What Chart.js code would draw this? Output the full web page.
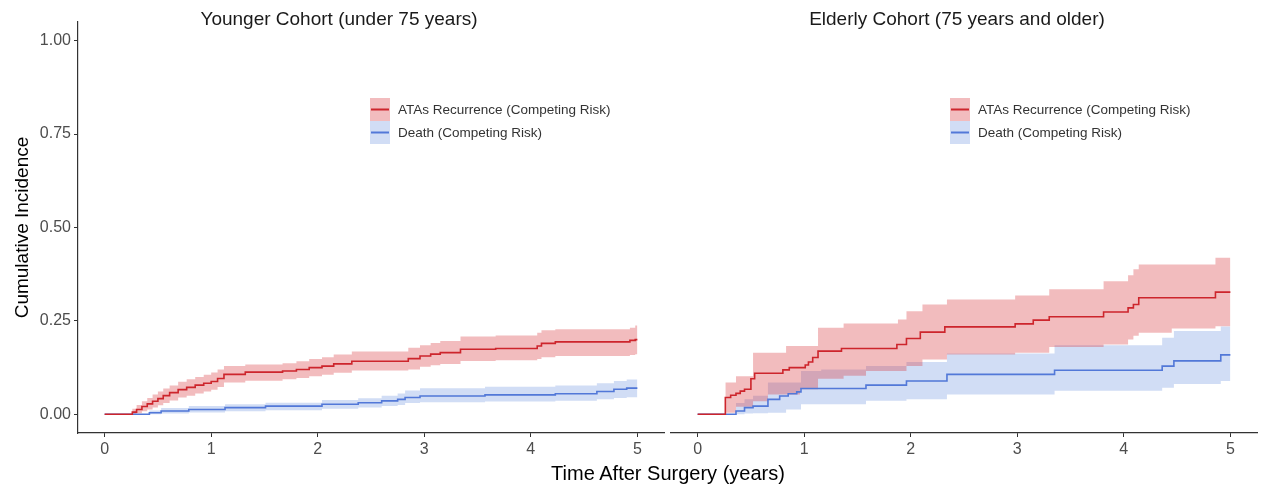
<!DOCTYPE html>
<html>
<head>
<meta charset="utf-8">
<script src="https://cdn.jsdelivr.net/npm/chart.js@4.4.1/dist/chart.umd.min.js"></script>
<style>
  body { margin: 0; background: #fff; font-family: "Liberation Sans", Arial, sans-serif; }
  #wrap { position: relative; width: 1265px; height: 489px; overflow: hidden; }
  #leftBox { position: absolute; left: 0; top: 0; width: 665px; height: 489px; }
  #rightBox { position: absolute; left: 665px; top: 0; width: 600px; height: 489px; }
  .ptitle { position: absolute; top: 8px; font-size: 19px; color: #1a1a1a; white-space: nowrap; transform: translateX(-50%); }
  #xtitle { position: absolute; left: 668px; top: 462px; font-size: 20px; color: #000; white-space: nowrap; transform: translateX(-50%); }
</style>
</head>
<body>
<div id="wrap">
  <div id="leftBox"><canvas id="leftChart"></canvas></div>
  <div id="rightBox"><canvas id="rightChart"></canvas></div>
  <div class="ptitle" style="left:339px">Younger Cohort (under 75 years)</div>
  <div class="ptitle" style="left:957px">Elderly Cohort (75 years and older)</div>
  <div id="xtitle">Time After Surgery (years)</div>
</div>
<script>
// tick labels
const xTicks = [0, 1, 2, 3, 4, 5];
const yTicks = [0, 0.25, 0.5, 0.75, 1];
const seriesNames = ["ATAs Recurrence (Competing Risk)", "Death (Competing Risk)"];

// younger cohort - ATAs recurrence
const youngAtasTime  = [0, 0.26, 0.30, 0.35, 0.40, 0.45, 0.50, 0.55, 0.61, 0.69, 0.77, 0.85, 0.93, 1.00, 1.06, 1.12, 1.32, 1.67, 1.80, 1.92, 2.04, 2.15, 2.32, 2.85, 2.96, 3.06, 3.15, 3.34, 3.67, 4.06, 4.10, 4.23, 4.93, 4.98, 5.0];
const youngAtasCif   = [0, 0.006, 0.013, 0.021, 0.028, 0.035, 0.042, 0.050, 0.058, 0.066, 0.072, 0.078, 0.083, 0.088, 0.096, 0.107, 0.113, 0.116, 0.120, 0.125, 0.129, 0.135, 0.142, 0.149, 0.156, 0.161, 0.165, 0.174, 0.176, 0.183, 0.190, 0.194, 0.198, 0.200, 0.200];
const youngAtasUpper = [0, 0.015, 0.025, 0.035, 0.044, 0.053, 0.061, 0.069, 0.077, 0.087, 0.094, 0.100, 0.106, 0.112, 0.120, 0.129, 0.133, 0.137, 0.142, 0.148, 0.153, 0.160, 0.168, 0.178, 0.185, 0.191, 0.196, 0.208, 0.211, 0.218, 0.225, 0.228, 0.232, 0.238, 0.238];
const youngAtasLower = [0, 0, 0.003, 0.008, 0.013, 0.018, 0.024, 0.030, 0.037, 0.045, 0.050, 0.056, 0.061, 0.066, 0.073, 0.085, 0.090, 0.094, 0.097, 0.102, 0.106, 0.111, 0.117, 0.120, 0.127, 0.131, 0.135, 0.143, 0.145, 0.148, 0.153, 0.156, 0.159, 0.161, 0.161];

// younger cohort - death
const youngDeathTime  = [0, 0.42, 0.53, 0.79, 1.13, 1.51, 2.04, 2.38, 2.60, 2.75, 2.82, 2.96, 3.57, 4.23, 4.62, 4.78, 4.90, 5.0];
const youngDeathCif   = [0, 0.004, 0.009, 0.013, 0.018, 0.022, 0.027, 0.031, 0.036, 0.040, 0.045, 0.049, 0.052, 0.055, 0.061, 0.067, 0.070, 0.070];
const youngDeathUpper = [0, 0.010, 0.017, 0.022, 0.027, 0.031, 0.038, 0.043, 0.050, 0.056, 0.064, 0.070, 0.074, 0.077, 0.083, 0.089, 0.093, 0.094];
const youngDeathLower = [0, 0, 0.002, 0.005, 0.008, 0.011, 0.015, 0.018, 0.022, 0.025, 0.030, 0.032, 0.034, 0.036, 0.040, 0.044, 0.046, 0.046];

// elderly cohort - ATAs recurrence
const oldAtasTime     = [0, 0.26, 0.31, 0.36, 0.40, 0.44, 0.50, 0.535, 0.80, 0.86, 1.01, 1.04, 1.08, 1.13, 1.35, 1.87, 1.96, 2.09, 2.32, 2.98, 3.15, 3.30, 3.81, 4.04, 4.09, 4.14, 4.86, 5.0];
const oldAtasCif      = [0, 0.045, 0.051, 0.056, 0.062, 0.067, 0.095, 0.110, 0.119, 0.125, 0.132, 0.140, 0.152, 0.169, 0.176, 0.187, 0.203, 0.220, 0.234, 0.242, 0.252, 0.261, 0.274, 0.285, 0.294, 0.312, 0.327, 0.327];
const oldAtasBandTime = [0.26, 0.36, 0.52, 0.66, 0.83, 0.96, 1.13, 1.37, 1.58, 1.88, 1.96, 2.11, 2.34, 2.98, 3.30, 3.81, 4.04, 4.09, 4.14, 4.45, 4.86, 5.0];
const oldAtasUpper    = [0.085, 0.102, 0.165, 0.165, 0.183, 0.183, 0.232, 0.243, 0.243, 0.254, 0.276, 0.294, 0.307, 0.318, 0.335, 0.356, 0.372, 0.388, 0.401, 0.401, 0.419, 0.419];
const oldAtasLower    = [0.004, 0.020, 0.035, 0.053, 0.053, 0.067, 0.095, 0.103, 0.116, 0.116, 0.129, 0.147, 0.160, 0.165, 0.180, 0.187, 0.200, 0.210, 0.218, 0.230, 0.236, 0.236];

// elderly cohort - death
const oldDeathTime     = [0, 0.36, 0.44, 0.52, 0.66, 0.77, 0.85, 0.93, 0.97, 1.58, 1.96, 2.34, 3.35, 4.36, 4.47, 4.91, 5.0];
const oldDeathCif      = [0, 0.009, 0.018, 0.022, 0.040, 0.049, 0.055, 0.060, 0.069, 0.078, 0.089, 0.107, 0.118, 0.129, 0.143, 0.159, 0.159];
const oldDeathBandTime = [0.36, 0.44, 0.52, 0.66, 0.83, 0.97, 1.16, 1.58, 1.96, 2.09, 2.34, 3.35, 4.36, 4.47, 4.91, 5.0];
const oldDeathUpper    = [0.030, 0.040, 0.050, 0.085, 0.085, 0.116, 0.120, 0.129, 0.140, 0.140, 0.163, 0.185, 0.205, 0.223, 0.235, 0.235];
const oldDeathLower    = [0, 0.002, 0.003, 0.004, 0.013, 0.027, 0.027, 0.036, 0.040, 0.040, 0.053, 0.063, 0.071, 0.081, 0.089, 0.089];

const redLine = '#cd252c';
const redFill = 'rgba(214, 48, 52, 0.32)';
const blueLine = '#5278d8';
const blueFill = 'rgba(72, 118, 215, 0.25)';

function pts(t, v) {
  return t.map((x, i) => ({ x: x, y: v[i] }));
}

function makeDatasets(atasT, atasV, atasBT, atasU, atasL, deathT, deathV, deathBT, deathU, deathL) {
  return [
    { data: pts(atasT, atasV), borderColor: redLine, borderWidth: 1.6, stepped: true, pointRadius: 0, fill: false, order: 0 },
    { data: pts(deathT, deathV), borderColor: blueLine, borderWidth: 1.6, stepped: true, pointRadius: 0, fill: false, order: 1 },
    { data: pts(atasBT, atasU), borderWidth: 0, borderColor: 'rgba(0,0,0,0)', stepped: true, pointRadius: 0, fill: false, order: 3 },
    { data: pts(atasBT, atasL), borderWidth: 0, borderColor: 'rgba(0,0,0,0)', backgroundColor: redFill, stepped: true, pointRadius: 0, fill: '-1', order: 3 },
    { data: pts(deathBT, deathU), borderWidth: 0, borderColor: 'rgba(0,0,0,0)', stepped: true, pointRadius: 0, fill: false, order: 4 },
    { data: pts(deathBT, deathL), borderWidth: 0, borderColor: 'rgba(0,0,0,0)', backgroundColor: blueFill, stepped: true, pointRadius: 0, fill: '-1', order: 4 }
  ];
}

// ggplot style legend inside the panel
const panelLegend = {
  id: 'panelLegend',
  afterDraw(chart, args, opts) {
    const ctx = chart.ctx;
    const keys = [[redFill, redLine], [blueFill, blueLine]];
    ctx.save();
    seriesNames.forEach((name, i) => {
      const top = opts.y + i * 23;
      ctx.fillStyle = keys[i][0];
      ctx.fillRect(opts.x, top, 20, 23);
      ctx.strokeStyle = keys[i][1];
      ctx.lineWidth = 2;
      ctx.beginPath();
      ctx.moveTo(opts.x + 1, top + 11.5);
      ctx.lineTo(opts.x + 19, top + 11.5);
      ctx.stroke();
      ctx.fillStyle = '#333';
      ctx.font = '13.5px "Liberation Sans", Arial, sans-serif';
      ctx.textBaseline = 'middle';
      ctx.fillText(name, opts.x + 28, top + 12);
    });
    ctx.restore();
  }
};

function makeOptions(showY, pad, legendX) {
  return {
    responsive: false,
    animation: false,
    layout: { padding: pad },
    plugins: {
      legend: { display: false },
      tooltip: { enabled: false },
      panelLegend: { x: legendX, y: 98 }
    },
    scales: {
      x: {
        type: 'linear', min: -0.25, max: 5.25,
        afterBuildTicks: (s) => { s.ticks = xTicks.map(v => ({ value: v })); },
        afterFit: (s) => { s.height = 56; },
        grid: { drawOnChartArea: false, drawTicks: true, tickLength: 4, color: '#333' },
        border: { display: true, color: '#333', width: 1.2 },
        ticks: { color: '#4d4d4d', font: { size: 16, family: '"Liberation Sans", Arial' }, padding: 3, maxRotation: 0 }
      },
      y: {
        type: 'linear', min: -0.05, max: 1.05, display: showY,
        afterBuildTicks: (s) => { s.ticks = yTicks.map(v => ({ value: v })); },
        afterFit: (s) => { s.width = showY ? 71 : 0; },
        grid: { drawOnChartArea: false, drawTicks: true, tickLength: 4, color: '#333' },
        border: { display: true, color: '#333', width: 1.2 },
        ticks: { color: '#4d4d4d', font: { size: 16, family: '"Liberation Sans", Arial' }, padding: 3,
          callback: (v) => Number(v).toFixed(2) },
        title: { display: true, text: 'Cumulative Incidence', color: '#000',
          font: { size: 19, family: '"Liberation Sans", Arial' }, padding: { top: 4, bottom: 4 } }
      }
    }
  };
}

const leftCanvas = document.getElementById('leftChart');
leftCanvas.width = 665; leftCanvas.height = 489;
new Chart(leftCanvas, {
  type: 'line',
  data: { datasets: makeDatasets(youngAtasTime, youngAtasCif, youngAtasTime, youngAtasUpper, youngAtasLower,
    youngDeathTime, youngDeathCif, youngDeathTime, youngDeathUpper, youngDeathLower) },
  options: makeOptions(true, { left: 7, right: 1, top: 22, bottom: 0 }, 370),
  plugins: [panelLegend]
});

const rightCanvas = document.getElementById('rightChart');
rightCanvas.width = 600; rightCanvas.height = 489;
new Chart(rightCanvas, {
  type: 'line',
  data: { datasets: makeDatasets(oldAtasTime, oldAtasCif, oldAtasBandTime, oldAtasUpper, oldAtasLower,
    oldDeathTime, oldDeathCif, oldDeathBandTime, oldDeathUpper, oldDeathLower) },
  options: makeOptions(false, { left: 6, right: 8, top: 22, bottom: 0 }, 285),
  plugins: [panelLegend]
});
</script>
</body>
</html>
